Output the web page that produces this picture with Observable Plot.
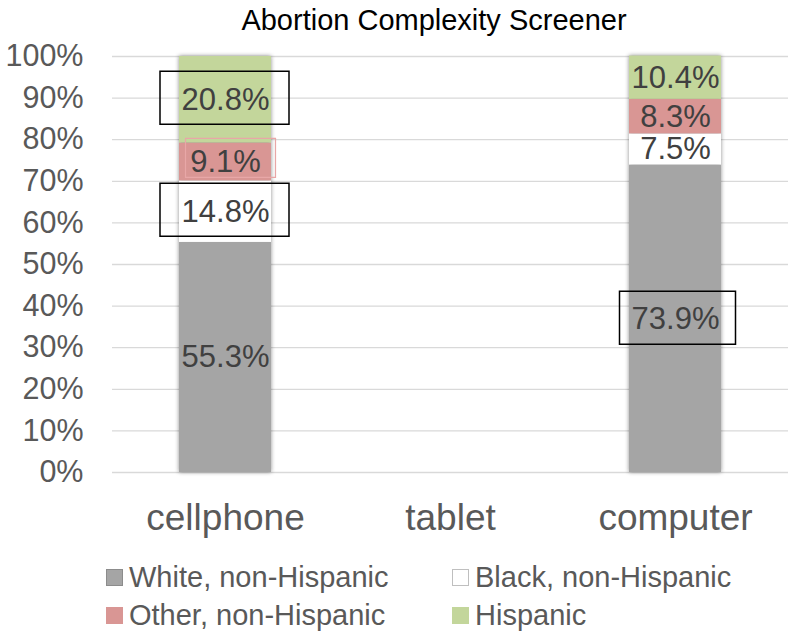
<!DOCTYPE html>
<html>
<head>
<meta charset="utf-8">
<script src="https://cdn.jsdelivr.net/npm/d3@7"></script>
<script src="https://cdn.jsdelivr.net/npm/@observablehq/plot@0.6"></script>
<style>
  html, body { margin: 0; padding: 0; background: #fff; }
  #wrap { position: relative; width: 788px; height: 635px; font-family: "Liberation Sans", Arial, sans-serif; overflow: hidden; }
  #title { position: absolute; top: 2px; left: 40px; width: 788px; text-align: center; font-size: 29px; color: #000; line-height: 36px; }
  #chart { position: absolute; top: 0; left: 0; }
  .leg { position: absolute; font-size: 29px; color: #595959; line-height: 34px; white-space: nowrap; display: flex; align-items: center; }
  .sw { width: 17px; height: 17px; margin-right: 6px; box-sizing: border-box; }
</style>
</head>
<body>
<div id="wrap">
  <div id="chart"></div>
  <div id="title">Abortion Complexity Screener</div>
  <div id="legend"></div>
</div>
<script>
// ---- data ----
const categories = ["cellphone", "tablet", "computer"];
const groups = ["White, non-Hispanic", "Black, non-Hispanic", "Other, non-Hispanic", "Hispanic"];
const cellphoneValues = [55.3, 14.8, 9.1, 20.8];
const tabletValues = [null, null, null, null];
const computerValues = [73.9, 7.5, 8.3, 10.4];
const groupColors = ["#a5a5a5", "#ffffff", "#d99694", "#c3d69b"];
const yTicks = [0, 10, 20, 30, 40, 50, 60, 70, 80, 90, 100];
const boxedLabels = [
  ["cellphone", "Hispanic"],
  ["cellphone", "Black, non-Hispanic"],
  ["computer", "White, non-Hispanic"]
];
const highlightedLabels = [["cellphone", "Other, non-Hispanic"]];

// ---- build rows ----
const valuesByCat = { cellphone: cellphoneValues, tablet: tabletValues, computer: computerValues };
const rows = [];
for (const cat of categories) {
  let acc = 0;
  valuesByCat[cat].forEach((v, i) => {
    if (v == null) return;
    rows.push({ cat, group: groups[i], v, y1: acc, y2: acc + v, mid: acc + v / 2 });
    acc += v;
  });
}
const pick = list => rows.filter(r => list.some(([c, g]) => r.cat === c && r.group === g));
const boxedWide = pick(boxedLabels).filter(r => r.cat === "cellphone");
const boxedNarrow = pick(boxedLabels).filter(r => r.cat === "computer");
const highlighted = pick(highlightedLabels);

const rectSymbol = (w, h) => ({ draw(ctx) { ctx.rect(-w / 2, -h / 2, w, h); } });

const font = "'Liberation Sans', Arial, sans-serif";
const chart = Plot.plot({
  width: 788,
  height: 545,
  marginLeft: 112,
  marginRight: 0,
  marginTop: 56,
  marginBottom: 73,
  style: { fontFamily: font, background: "transparent", overflow: "visible" },
  x: { domain: categories, paddingInner: 0.59, paddingOuter: 0.295, axis: null },
  y: { domain: [0, 100], axis: null },
  color: { domain: groups, range: groupColors },
  marks: [
    Plot.ruleY(yTicks, { y: d => d, stroke: "#d9d9d9", strokeWidth: 1.3 }),
    Plot.text(yTicks, { y: d => d, text: d => d + "%", frameAnchor: "left", textAnchor: "end", dx: -29, fontSize: 30.5, fill: "#595959" }),
    Plot.barY(rows, { x: "cat", y1: "y1", y2: "y2", fill: "group" }),
    Plot.text(rows, { x: "cat", y: "mid", text: d => d.v.toFixed(1) + "%", fontSize: 31, fill: "#404040" }),
    Plot.dot(highlighted, { x: "cat", y: "mid", symbol: rectSymbol(90, 39), dx: 5, dy: -4, stroke: "#e8a7a7", strokeWidth: 1.2, fill: "none" }),
    Plot.dot(boxedWide, { x: "cat", y: "mid", symbol: rectSymbol(129, 53), dx: -1, dy: -2, stroke: "#000", strokeWidth: 1.5, fill: "none" }),
    Plot.dot(boxedNarrow, { x: "cat", y: "mid", symbol: rectSymbol(116, 53), dx: 2, dy: -1, stroke: "#000", strokeWidth: 1.5, fill: "none" }),
    Plot.text(categories, { x: d => d, frameAnchor: "bottom", dy: 57, fontSize: 37, fill: "#595959" })
  ]
});
document.getElementById("chart").appendChild(chart);
const barG = chart.querySelector('g[aria-label="bar"]');
if (barG) barG.style.filter = "drop-shadow(0px 0px 2px rgba(0,0,0,0.45))";

// ---- legend ----
const legendPos = [[106, 560], [452, 560], [106, 598], [452, 598]];
const legendBorders = ["#8c8c8c", "#bfbfbf", "#d99694", "#c3d69b"];
const legend = document.getElementById("legend");
groups.forEach((g, i) => {
  const d = document.createElement("div");
  d.className = "leg";
  d.style.left = legendPos[i][0] + "px";
  d.style.top = legendPos[i][1] + "px";
  const sw = document.createElement("span");
  sw.className = "sw";
  sw.style.background = groupColors[i];
  sw.style.border = "1.5px solid " + legendBorders[i];
  d.appendChild(sw);
  d.appendChild(document.createTextNode(g));
  legend.appendChild(d);
});
</script>
</body>
</html>
